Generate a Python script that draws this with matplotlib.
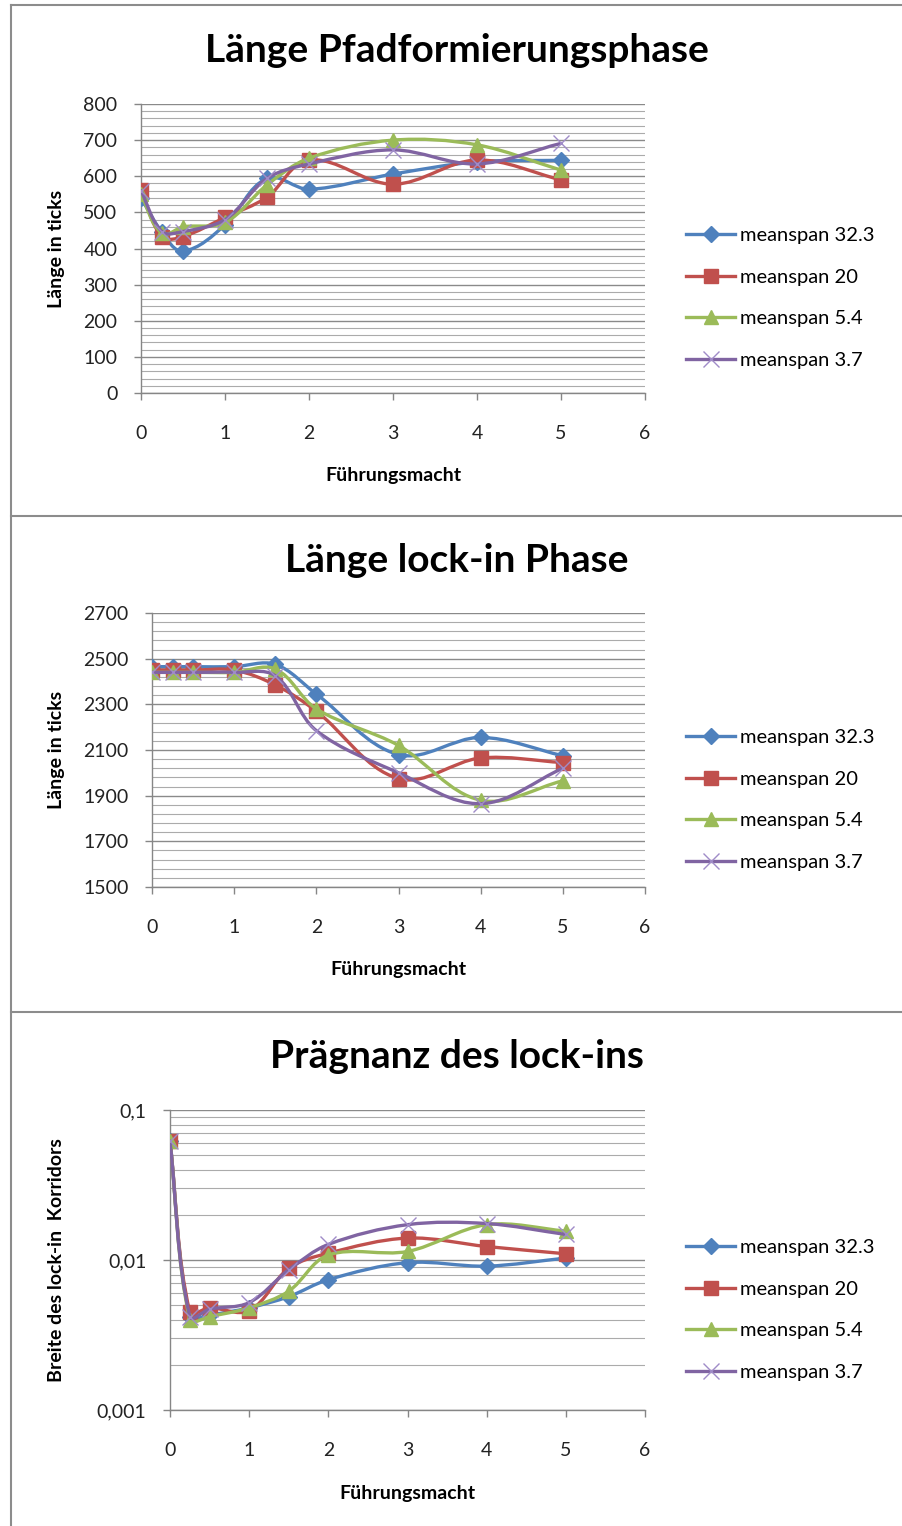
import numpy as np
import matplotlib
matplotlib.use("Agg")
import matplotlib.pyplot as plt
from matplotlib.path import Path
from matplotlib.patches import PathPatch
from matplotlib.lines import Line2D
from matplotlib.ticker import MultipleLocator, LogLocator, FixedLocator, NullFormatter

plt.rcParams["font.family"] = ["Lato", "DejaVu Sans"]

W, H = 902, 1526

# Führungsmacht values (same for all three charts)
fuehrung = [0, 0.25, 0.5, 1, 1.5, 2, 3, 4, 5]

series_names = ["meanspan 32.3", "meanspan 20", "meanspan 5.4", "meanspan 3.7"]

# Länge Pfadformierungsphase
pfad_32 = [540, 445, 393, 465, 594, 564, 606, 640, 644]
pfad_20 = [562, 433, 433, 486, 542, 645, 578, 645, 590]
pfad_5 = [550, 442, 460, 472, 576, 650, 700, 687, 617]
pfad_3 = [560, 447, 447, 480, 594, 634, 673, 634, 691]

# Länge lock-in Phase
lock_32 = [2465, 2465, 2465, 2465, 2475, 2345, 2080, 2155, 2075]
lock_20 = [2450, 2450, 2450, 2450, 2385, 2270, 1975, 2065, 2045]
lock_5 = [2440, 2440, 2440, 2440, 2455, 2280, 2120, 1880, 1965]
lock_3 = [2440, 2440, 2440, 2440, 2425, 2185, 2000, 1865, 2020]

# Prägnanz des lock-ins (Breite des Korridors)
breite_32 = [0.062, 0.0042, 0.0043, 0.0048, 0.0057, 0.0074, 0.0096, 0.0091, 0.0103]
breite_20 = [0.062, 0.0045, 0.0048, 0.0046, 0.0088, 0.0111, 0.0140, 0.0123, 0.0110]
breite_5 = [0.062, 0.0040, 0.0042, 0.0048, 0.0062, 0.0108, 0.0114, 0.0172, 0.0156]
breite_3 = [0.062, 0.0042, 0.0047, 0.0052, 0.0086, 0.0127, 0.0172, 0.0175, 0.0148]

colors = ["#4F81BD", "#C0504D", "#9BBB59", "#8064A2"]
markers = ["D", "s", "^", "x"]
msizes = [8, 9.5, 10, 11]
LW = 2.4


def px_rect(left, top, right, bottom):
    return [left / W, 1 - bottom / H, (right - left) / W, (bottom - top) / H]


def smooth_path(xs, ys, sx, sy, log=False):
    # smoothed line as cubic beziers; tangents are worked out in pixel space
    # and scaled by each segment's own length so short segments don't overshoot
    xs = np.asarray(xs, float)
    ys = np.log10(ys) if log else np.asarray(ys, float)
    pts = np.column_stack([xs * sx, ys * sy])
    n = len(pts)

    def tangent(i):
        d = pts[min(i + 1, n - 1)] - pts[max(i - 1, 0)]
        return d / np.hypot(*d)

    verts = [pts[0]]
    codes = [Path.MOVETO]
    for i in range(n - 1):
        p1, p2 = pts[i], pts[i + 1]
        seg = np.hypot(*(p2 - p1)) / 3
        verts += [p1 + tangent(i) * seg, p2 - tangent(i + 1) * seg, p2]
        codes += [Path.CURVE4] * 3
    verts = np.array(verts)
    verts[:, 0] /= sx
    verts[:, 1] /= sy
    if log:
        verts[:, 1] = 10 ** verts[:, 1]
    return Path(verts, codes)


fig = plt.figure(figsize=(W / 100, H / 100), dpi=100)

# panel frames
frame_kw = dict(color="#8c8c8c", lw=1.5, transform=fig.transFigure)
fig.add_artist(Line2D([11 / W, 11 / W], [0, 1 - 5 / H], **frame_kw))
for yy in [5, 516, 1012]:
    fig.add_artist(Line2D([11 / W, 1], [1 - yy / H, 1 - yy / H], **frame_kw))


def draw_chart(rect, ylim, data, title, title_y, ylabel, ylabel_y, xlabel_y,
               legend_y, log=False):
    ax = fig.add_axes(px_rect(*rect))
    if log:
        ax.set_yscale("log")
        span = np.log10(ylim[1]) - np.log10(ylim[0])
    else:
        span = ylim[1] - ylim[0]
    sx = (rect[2] - rect[0]) / 6
    sy = (rect[3] - rect[1]) / span

    for i, ys in enumerate(data):
        patch = PathPatch(smooth_path(fuehrung, ys, sx, sy, log), facecolor="none",
                          edgecolor=colors[i], lw=LW, capstyle="round",
                          joinstyle="round", zorder=3 + i)
        ax.add_patch(patch)
        if markers[i] == "x":
            ax.plot(fuehrung, ys, ls="none", marker="x", ms=msizes[i], mew=1.0,
                    color="#a08cc8", zorder=3 + i)
        else:
            ax.plot(fuehrung, ys, ls="none", marker=markers[i], ms=msizes[i],
                    color=colors[i], mec=colors[i], zorder=3 + i)

    ax.set_xlim(0, 6)
    ax.set_ylim(*ylim)
    ax.xaxis.set_major_locator(MultipleLocator(1))
    for side in ["top", "right"]:
        ax.spines[side].set_visible(False)
    for side in ["left", "bottom"]:
        ax.spines[side].set_color("#868686")
        ax.spines[side].set_linewidth(1.0)
    ax.tick_params(which="major", direction="out", length=5, width=1.0,
                   color="#868686", labelsize=14, labelcolor="#222222")
    ax.tick_params(which="minor", length=0)
    ax.tick_params(axis="x", pad=18)
    ax.tick_params(axis="y", pad=12)
    ax.grid(True, which="major", axis="y", color="#8a8a8a", lw=1.0)
    ax.grid(True, which="minor", axis="y", color="#ababab", lw=0.8)
    ax.set_axisbelow(True)

    cx = (rect[0] + rect[2]) / 2
    fig.text(457 / W, 1 - title_y / H, title, ha="center", va="center",
             fontsize=28, fontweight="bold")
    fig.text(57 / W, 1 - ylabel_y / H, ylabel, ha="center", va="center",
             rotation=90, fontsize=14, fontweight="bold")
    fig.text(cx / W, 1 - xlabel_y / H, "Führungsmacht", ha="center",
             va="center", fontsize=14, fontweight="bold")

    handles = []
    for i in range(4):
        if markers[i] == "x":
            h = Line2D([], [], color=colors[i], lw=LW, marker="x", ms=msizes[i],
                       mew=1.0, mec="#a08cc8")
        else:
            h = Line2D([], [], color=colors[i], lw=LW, marker=markers[i],
                       ms=msizes[i], mec=colors[i])
        handles.append(h)
    ax.legend(handles, series_names, loc="center left",
              bbox_to_anchor=(686 / W, 1 - legend_y / H),
              bbox_transform=fig.transFigure, frameon=False, fontsize=14.5,
              handlelength=2.45, handletextpad=0.25, labelspacing=1.22,
              borderpad=0, borderaxespad=0)
    return ax


# chart 1
ax1 = draw_chart((141, 104, 645, 393), (0, 800), [pfad_32, pfad_20, pfad_5, pfad_3],
                 "Länge Pfadformierungsphase", 50, "Länge in ticks", 249, 476, 298)
ax1.yaxis.set_major_locator(MultipleLocator(100))
ax1.yaxis.set_minor_locator(MultipleLocator(20))

# chart 2
ax2 = draw_chart((152, 613, 645, 887), (1500, 2700), [lock_32, lock_20, lock_5, lock_3],
                 "Länge lock-in Phase", 560, "Länge in ticks", 750, 970, 800)
ax2.yaxis.set_major_locator(FixedLocator(np.arange(1500, 2701, 200)))
ax2.yaxis.set_minor_locator(FixedLocator(np.arange(1500, 2701, 40)))

# chart 3
ax3 = draw_chart((170, 1110, 645, 1410), (0.001, 0.1),
                 [breite_32, breite_20, breite_5, breite_3],
                 "Prägnanz des lock-ins", 1057, "Breite des lock-in  Korridors",
                 1260, 1493, 1310, log=True)
ax3.yaxis.set_major_locator(FixedLocator([0.001, 0.01, 0.1]))
ax3.yaxis.set_minor_locator(LogLocator(base=10, subs=np.arange(2, 10)))
ax3.yaxis.set_minor_formatter(NullFormatter())
ax3.set_yticklabels(["0,001", "0,01", "0,1"])
ax3.tick_params(which="minor", length=0)

fig.savefig("out.png", dpi=100)
